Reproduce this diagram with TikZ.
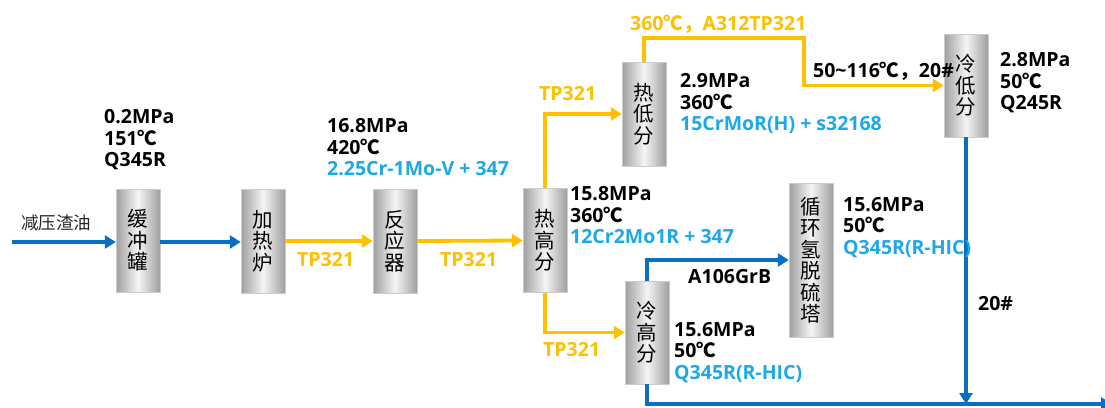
\documentclass[tikz,border=0pt]{standalone}
\usepackage{fontspec}
\setmainfont{Open Sans}
\newfontfamily\cjk{Noto Sans CJK SC}
\newcommand{\dgc}{{\cjk ℃}}
\newcommand{\fwc}{{\cjk ，}}
\usetikzlibrary{arrows.meta}
\definecolor{pblue}{HTML}{0A6FC2}
\definecolor{pyel}{HTML}{FFC000}
\definecolor{pcyan}{HTML}{1CA8EA}
\tikzset{
  vessel/.style={rectangle, draw=gray!40, line width=0.4pt, minimum width=44pt,
    left color=gray!75, right color=gray!75, middle color=gray!8,
    inner sep=0pt, align=center, font=\cjk\fontsize{20.5pt}{21.5pt}\selectfont},
  bpipe/.style={draw=pblue, line width=3.8pt},
  ypipe/.style={draw=pyel, line width=3.8pt},
  tip/.style={-{Triangle[length=11pt,width=13pt]}},
  info/.style={anchor=north west, inner sep=0pt, align=left,
    font=\fontsize{19.5pt}{21.7pt}\selectfont\bfseries},
  ylab/.style={anchor=north west, inner sep=0pt, text=pyel,
    font=\fontsize{19.5pt}{22pt}\selectfont\bfseries},
  klab/.style={anchor=north west, inner sep=0pt, text=black,
    font=\fontsize{19.5pt}{22pt}\selectfont\bfseries},
}
\begin{document}
\begin{tikzpicture}[x=1pt,y=-1pt]
\useasboundingbox (0,0) rectangle (1105,407);
% vessels
\node[vessel, minimum height=103pt] (buf) at (138,240.5) {缓\\冲\\罐};
\node[vessel, minimum height=104pt] (fur) at (263,241) {加\\热\\炉};
\node[vessel, minimum height=104pt] (rea) at (395,241) {反\\应\\器};
\node[vessel, minimum height=104pt] (hhs) at (545,240.5) {热\\高\\分};
\node[vessel, minimum height=104pt] (hls) at (644,114) {热\\低\\分};
\node[vessel, minimum height=103pt] (cls) at (966,85.5) {冷\\低\\分};
\node[vessel, minimum height=103pt] (chs) at (647,332.5) {冷\\高\\分};
\node[vessel, minimum height=154pt] (rec) at (811,260) {循\\环\\氢\\脱\\硫\\塔};
% coordinates
\coordinate (feed) at (12,242);
\coordinate (tl) at (644,38);
\coordinate (tr) at (804,38);
\coordinate (bot) at (647,404);
\coordinate (outend) at (1112,404);
% pipes
\draw[bpipe,tip] (feed) -- (feed -| buf.west);
\draw[bpipe,tip] (buf.east |- feed) -- (fur.west |- feed);
\draw[ypipe,tip] (fur.east) -- (rea.west);
\draw[ypipe,tip] (rea.east) -- (hhs.west);
\draw[ypipe,tip] (hhs.north) |- (hls.west);
\draw[ypipe,tip] (hls.north) -- (tl) -- (tr) |- (cls.west);
\draw[ypipe,tip] (hhs.south) |- (chs.west);
\draw[bpipe,tip] (chs.north) |- (rec.west);
\draw[bpipe,tip] (chs.south) -- (bot) -- (outend);
\draw[bpipe,tip] (cls.south) -- (cls.south |- bot);
% pipe labels
\node[anchor=north west, inner sep=0pt, font=\cjk\fontsize{17.5pt}{20pt}\selectfont, text=black!85] (feedlab) at (21,215) {减压渣油};
\node[ylab] (t1) at (297,252) {TP321};
\node[ylab] (t2) at (440,252) {TP321};
\node[ylab] (t3) at (539,86) {TP321};
\node[ylab] (t4) at (543,342) {TP321};
\node[ylab] (t5) at (630,15) {360\dgc\fwc A312TP321};
\node[klab] (t6) at (813,62) {50\char"007E 116\dgc\fwc 20\#};
\node[klab] (t7) at (688,269) {A106GrB};
\node[klab] (t8) at (978,296) {20\#};
% vessel info
\node[info] (i1) at (104,109) {0.2MPa\\151\dgc\\Q345R};
\node[info] (i2) at (327,118) {16.8MPa\\420\dgc\\\textcolor{pcyan}{2.25Cr-1Mo-V + 347}};
\node[info] (i3) at (570,186) {15.8MPa\\360\dgc\\\textcolor{pcyan}{12Cr2Mo1R + 347}};
\node[info] (i4) at (680,73) {2.9MPa\\360\dgc\\\textcolor{pcyan}{15CrMoR(H) + s32168}};
\node[info] (i5) at (1000,52) {2.8MPa\\50\dgc\\Q245R};
\node[info] (i6) at (674,322) {15.6MPa\\50\dgc\\\textcolor{pcyan}{Q345R(R-HIC)}};
\node[info] (i7) at (843,197) {15.6MPa\\50\dgc\\\textcolor{pcyan}{Q345R(R-HIC)}};
\end{tikzpicture}
\end{document}
